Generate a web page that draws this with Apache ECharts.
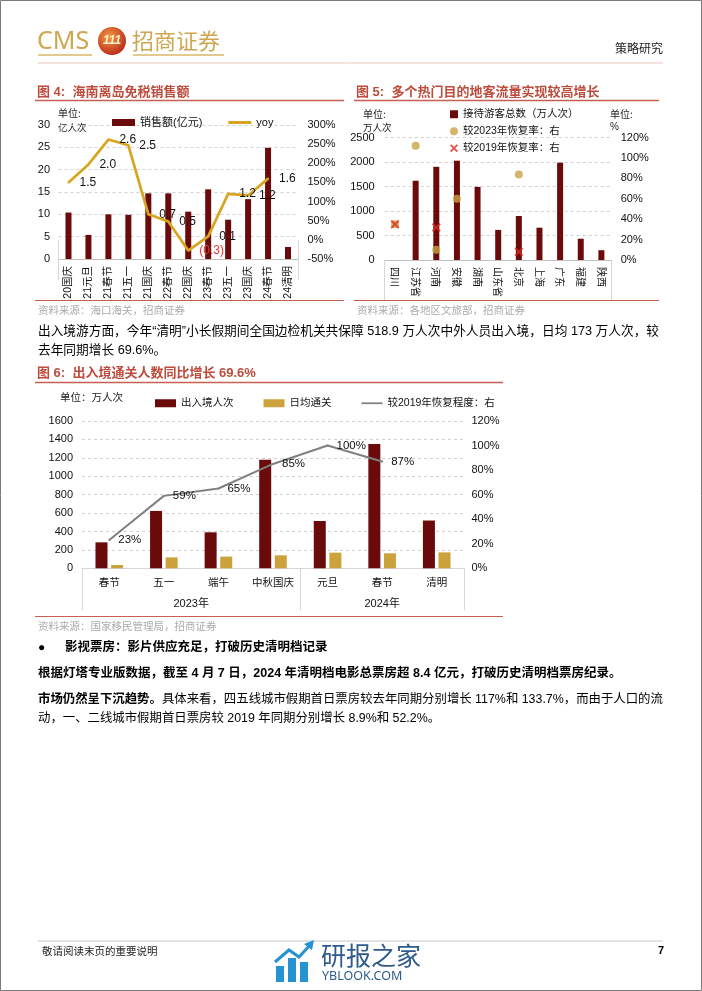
<!DOCTYPE html>
<html><head><meta charset="utf-8">
<script src="https://cdn.jsdelivr.net/npm/echarts@6/dist/echarts.min.js"></script>
<style>html,body{margin:0;padding:0;background:#fff}#c{width:702px;height:991px}</style>
</head><body><div id="c"></div>
<script>
// ---------- Figure 4 data ----------
const fig4Categories = ['20国庆','21元旦','21春节','21五一','21国庆','22春节','22国庆','23春节','23五一','23国庆','24春节','24清明'];
const fig4Sales = [10.4, 5.4, 10.0, 9.9, 14.7, 14.7, 10.6, 15.6, 8.8, 13.4, 24.9, 2.7];
const fig4Yoy = [150, 197, 262, 247, 67, 48, -28, 9, 120, 116, 160, null];
const fig4LeftTicks = {min: 0, max: 30, interval: 5};
const fig4RightTicks = {min: -50, max: 300, interval: 50};

// ---------- Figure 5 data ----------
const fig5Categories = ['四川','江苏省','河南','安徽','湖南','山东省','北京','上海','广东','福建','陕西'];
const fig5Visitors = [null, 1620, 1905, 2030, 1495, 615, 900, 660, 1990, 435, 200];
const fig5Vs2023 = [35, 112, 10, 60, null, null, 84, null, null, null, null];
const fig5Vs2019 = [35, null, 32, null, null, null, 8, null, null, null, null];
const fig5LeftTicks = {min: 0, max: 2500, interval: 500};
const fig5RightTicks = {min: 0, max: 120, interval: 20};

// ---------- Figure 6 data ----------
const fig6Categories = ['春节','五一','端午','中秋国庆','元旦','春节','清明'];
const fig6Years = ['2023年','2024年'];
const fig6YearSpans = [4, 3];
const fig6Crossings = [282, 623, 391, 1180, 514, 1350, 518.9];
const fig6Daily = [36, 119, 127, 141, 170, 163, 173];
const fig6Recovery = [23, 59, 65, 85, 100, 87, null];
const fig6LeftTicks = {min: 0, max: 1600, interval: 200};
const fig6RightTicks = {min: 0, max: 120, interval: 20};

// ---------- styles ----------
const MIX = '"Liberation Sans","Noto Sans CJK SC",sans-serif';
const CJK = '"Noto Sans CJK SC",sans-serif';
const DARK_RED = '#6B0A0A';
const GOLD = '#CCA23C';
const YOY_GOLD = '#D8A61E';
const TITLE_RED = '#BE4B3C';
const RULE_RED = '#C8604F';
const GRID_LINE = {show: true, lineStyle: {type: [3, 3], color: '#D0D0D0', width: 1}};
const X_ICON = 'path://M0,1.6 L1.6,0 L5,3.4 L8.4,0 L10,1.6 L6.6,5 L10,8.4 L8.4,10 L5,6.6 L1.6,10 L0,8.4 L3.4,5 Z';
const LINE_ICON_THICK = 'path://M0,0 L23,0 L23,3 L0,3 Z';
const LINE_ICON_THIN = 'path://M0,0 L24,0 L24,2 L0,2 Z';

function T(text, x, y, o) {
  return {type: 'text', silent: true, style: Object.assign({
    text: text, x: x, y: y, fill: '#000', fontSize: 12, fontFamily: MIX,
    textAlign: 'left', textVerticalAlign: 'middle', align: 'left', verticalAlign: 'middle'
  }, o || {})};
}
function L(x1, y1, x2, y2, color, w) {
  return {type: 'line', silent: true, shape: {x1: x1, y1: y1, x2: x2, y2: y2}, style: {stroke: color, lineWidth: w || 1}};
}
function yAx(grid, t, pos, margin, pct, split) {
  return {
    type: 'value', gridIndex: grid, position: pos, min: t.min, max: t.max, interval: t.interval,
    axisLine: {show: false}, axisTick: {show: false},
    axisLabel: {fontSize: 11, fontFamily: MIX, color: '#111', margin: margin, formatter: v => String(v) + (pct ? '%' : '')},
    splitLine: split ? GRID_LINE : {show: false}
  };
}
function edgeTicks(grid, count, len) {
  return {
    type: 'value', gridIndex: grid, position: 'bottom', min: 0, max: count,
    axisLine: {show: false}, axisLabel: {show: false}, splitLine: {show: false},
    axisTick: {show: true, customValues: [0, count], length: len, lineStyle: {color: '#D6D6D6'}}
  };
}

// year group ticks / labels for fig 6
const yearBounds = [0];
fig6YearSpans.forEach(s => yearBounds.push(yearBounds[yearBounds.length - 1] + s));
const yearCenters = fig6YearSpans.map((s, i) => yearBounds[i] + s / 2);

const chart = echarts.init(document.getElementById('c'));

const graphics = [
  {type: 'rect', silent: true, shape: {x: 0.5, y: 0.5, width: 701, height: 990}, style: {fill: 'none', stroke: '#7a7a7a', lineWidth: 1}},
  // header
  T('CMS', 37, 42, {fontSize: 25, fontFamily: '"Noto Sans",sans-serif', fill: '#CFA650'}),
  {type: 'circle', silent: true, shape: {cx: 112, cy: 41, r: 14},
   style: {fill: new echarts.graphic.RadialGradient(0.4, 0.35, 0.75, [{offset: 0, color: '#F39A45'}, {offset: 1, color: '#B51E16'}])}},
  T('111', 112, 41, {fontSize: 12, fontWeight: 'bold', fontStyle: 'italic', fill: '#FFF3C8', textAlign: 'center', align: 'center'}),
  T('招商证券', 132, 41, {fontSize: 22, fontFamily: CJK, fill: '#CFA650'}),
  L(38, 55, 92, 55, '#D9B868', 1.5),
  L(133, 55, 224, 55, '#D9B868', 1.5),
  T('策略研究', 615, 48, {fontSize: 12, fontFamily: CJK, fill: '#222'}),
  L(38, 63, 663, 63, '#E8C7BE', 1),

  // fig 4 frame
  T('图 4:  海南离岛免税销售额', 37, 92, {fontSize: 13, fontWeight: 'bold', fill: TITLE_RED}),
  L(35, 100.5, 344, 100.5, RULE_RED, 1.5),
  T('单位:', 58, 113, {fontSize: 10, fontFamily: CJK, fill: '#222'}),
  T('亿人次', 58, 127, {fontSize: 9.5, fontFamily: CJK, fill: '#222'}),
  L(35, 300.5, 344, 300.5, RULE_RED, 1),
  T('资料来源：海口海关，招商证券', 38, 310, {fontSize: 10.5, fontFamily: CJK, fill: '#ABABAB'}),

  // fig 5 frame
  T('图 5:  多个热门目的地客流量实现较高增长', 356, 92, {fontSize: 13, fontWeight: 'bold', fill: TITLE_RED}),
  L(354, 100.5, 659, 100.5, RULE_RED, 1.5),
  T('单位:', 363, 114, {fontSize: 10, fontFamily: CJK, fill: '#222'}),
  T('万人次', 363, 127, {fontSize: 9.5, fontFamily: CJK, fill: '#222'}),
  T('单位:', 610, 114, {fontSize: 10, fontFamily: CJK, fill: '#222'}),
  T('%', 610, 127, {fontSize: 10, fill: '#222'}),
  L(354, 300.5, 659, 300.5, RULE_RED, 1),
  T('资料来源：各地区文旅部，招商证券', 357, 310, {fontSize: 10.5, fontFamily: CJK, fill: '#ABABAB'}),

  // paragraph
  T('出入境游方面，今年“清明”小长假期间全国边检机关共保障 518.9 万人次中外人员出入境，日均 173 万人次，较', 38, 331, {fontSize: 12.7}),
  T('去年同期增长 69.6%。', 38, 350, {fontSize: 12.7}),

  // fig 6 frame
  T('图 6:  出入境通关人数同比增长 69.6%', 37, 373, {fontSize: 13, fontWeight: 'bold', fill: TITLE_RED}),
  L(35, 382.5, 503, 382.5, RULE_RED, 1.5),
  T('单位：万人次', 60, 397, {fontSize: 10.5, fontFamily: CJK, fill: '#222'}),
  L(35, 616.5, 503, 616.5, RULE_RED, 1),
  T('资料来源：国家移民管理局，招商证券', 38, 626, {fontSize: 10.5, fontFamily: CJK, fill: '#ABABAB'}),

  // text below
  T('●', 38, 648, {fontSize: 12}),
  T('影视票房：影片供应充足，打破历史清明档记录', 65, 648, {fontSize: 12.5, fontWeight: 'bold'}),
  T('根据灯塔专业版数据，截至 4 月 7 日，2024 年清明档电影总票房超 8.4 亿元，打破历史清明档票房纪录。', 38, 674, {fontSize: 12.5, fontWeight: 'bold'}),
  {type: 'text', silent: true, style: {
    text: '{b|市场仍然呈下沉趋势。}具体来看，四五线城市假期首日票房较去年同期分别增长 117%和 133.7%，而由于人口的流',
    x: 38, y: 700, fill: '#000', fontSize: 12.4, fontFamily: MIX,
    textAlign: 'left', textVerticalAlign: 'middle', align: 'left', verticalAlign: 'middle',
    rich: {b: {fontWeight: 'bold', fontSize: 12.4, fontFamily: MIX, fill: '#000'}}
  }},
  T('动，一、二线城市假期首日票房较 2019 年同期分别增长 8.9%和 52.2%。', 38, 719, {fontSize: 12.4}),

  // footer
  L(38, 941, 663, 941, '#C8C8C8', 1),
  T('敬请阅读末页的重要说明', 42, 951, {fontSize: 10.5, fontFamily: CJK, fill: '#222'}),
  T('7', 664, 951, {fontSize: 11, fontWeight: 'bold', textAlign: 'right', align: 'right'}),
  // watermark
  {type: 'rect', silent: true, shape: {x: 276, y: 966, width: 8, height: 16}, style: {fill: '#2593D1'}},
  {type: 'rect', silent: true, shape: {x: 288, y: 958, width: 8, height: 24}, style: {fill: '#2593D1'}},
  {type: 'rect', silent: true, shape: {x: 300, y: 962, width: 8, height: 20}, style: {fill: '#2593D1'}},
  {type: 'polyline', silent: true, shape: {points: [[275, 962], [289, 950], [299, 957], [311, 944]]}, style: {stroke: '#2593D1', lineWidth: 3, fill: 'none'}},
  {type: 'polygon', silent: true, shape: {points: [[304, 944], [314, 940], [312, 950]]}, style: {fill: '#2593D1'}},
  T('研报之家', 321, 955, {fontSize: 25, fontFamily: CJK, fill: '#2E5B8A'}),
  T('YBLOOK.COM', 322, 976, {fontSize: 12.5, fontFamily: '"Noto Sans",sans-serif', fill: '#2E5B8A'})
];

const option = {
  animation: false,
  backgroundColor: '#fff',
  grid: [
    {left: 58.5, top: 125, width: 239.5, height: 134},
    {left: 384.7, top: 137.7, width: 227, height: 122.3},
    {left: 82, top: 421, width: 382, height: 147.3}
  ],
  xAxis: [
    {type: 'category', gridIndex: 0, data: fig4Categories, position: 'bottom',
     axisLine: {lineStyle: {color: '#BFBFBF'}}, axisTick: {show: false},
     axisLabel: {interval: 0, rotate: 90, fontSize: 10.5, fontFamily: MIX, color: '#111', margin: 7}},
    edgeTicks(0, fig4Categories.length, 40),
    {type: 'category', gridIndex: 1, data: fig5Categories, position: 'bottom',
     axisLine: {lineStyle: {color: '#BFBFBF'}}, axisTick: {show: false},
     axisLabel: {interval: 0, rotate: -90, fontSize: 10, fontFamily: CJK, color: '#111', margin: 7}},
    edgeTicks(1, fig5Categories.length, 40),
    {type: 'category', gridIndex: 2, data: fig6Categories, position: 'bottom',
     axisLine: {lineStyle: {color: '#D6D6D6'}}, axisTick: {show: false},
     axisLabel: {interval: 0, fontSize: 10.5, fontFamily: CJK, color: '#111', margin: 8}},
    {type: 'value', gridIndex: 2, position: 'bottom', min: 0, max: yearBounds[yearBounds.length - 1],
     axisLine: {show: false}, splitLine: {show: false},
     axisTick: {show: true, customValues: yearBounds, length: 42, lineStyle: {color: '#D6D6D6'}},
     axisLabel: {show: true, customValues: yearCenters, margin: 30, fontSize: 11, fontFamily: MIX, color: '#111',
       formatter: v => fig6Years[yearCenters.indexOf(v)] || ''}}
  ],
  yAxis: [
    yAx(0, fig4LeftTicks, 'left', 8.5, false, true),
    yAx(0, fig4RightTicks, 'right', 9.5, true, false),
    yAx(1, fig5LeftTicks, 'left', 10, false, true),
    yAx(1, fig5RightTicks, 'right', 9, true, false),
    yAx(2, fig6LeftTicks, 'left', 9, false, true),
    yAx(2, fig6RightTicks, 'right', 7.5, true, false)
  ],
  legend: [
    {show: true, selectedMode: false, left: 107, top: 112, itemWidth: 23, itemHeight: 7, itemGap: 26,
     textStyle: {fontSize: 11, fontFamily: MIX, color: '#111'},
     data: [{name: '销售额(亿元)', icon: 'rect'}, {name: 'yoy', icon: LINE_ICON_THICK}]},
    {show: true, selectedMode: false, orient: 'vertical', left: 445, top: 104, itemWidth: 8, itemHeight: 8, itemGap: 6.5,
     textStyle: {fontSize: 10.5, fontFamily: MIX, color: '#111', lineHeight: 8},
     data: [{name: '接待游客总数（万人次）', icon: 'rect'}, {name: '较2023年恢复率：右', icon: 'circle'}, {name: '较2019年恢复率：右', icon: X_ICON}]},
    {show: true, selectedMode: false, left: 150, top: 393, itemWidth: 21, itemHeight: 8, itemGap: 30,
     textStyle: {fontSize: 10.5, fontFamily: MIX, color: '#111', lineHeight: 8},
     data: [{name: '出入境人次', icon: 'rect'}, {name: '日均通关', icon: 'rect'}, {name: '较2019年恢复程度：右', icon: LINE_ICON_THIN}]}
  ],
  series: [
    {name: '销售额(亿元)', type: 'bar', xAxisIndex: 0, yAxisIndex: 0, data: fig4Sales, barWidth: 6,
     itemStyle: {color: DARK_RED}},
    {name: 'yoy', type: 'line', xAxisIndex: 0, yAxisIndex: 1, data: fig4Yoy,
     symbol: 'circle', symbolSize: 2, showSymbol: true,
     lineStyle: {color: YOY_GOLD, width: 2.7}, itemStyle: {color: YOY_GOLD},
     label: {show: true, position: 'right', distance: 10, fontSize: 12, fontFamily: MIX, color: '#111',
       formatter: p => { const v = p.value / 100; return v < 0 ? '{neg|(' + Math.abs(v).toFixed(1) + ')}' : v.toFixed(1); },
       rich: {neg: {color: '#E53935', fontSize: 12, fontFamily: MIX}}}},
    {name: '接待游客总数（万人次）', type: 'bar', xAxisIndex: 2, yAxisIndex: 2, data: fig5Visitors, barWidth: 6,
     itemStyle: {color: DARK_RED}},
    {name: '较2023年恢复率：右', type: 'scatter', xAxisIndex: 2, yAxisIndex: 3, data: fig5Vs2023,
     symbol: 'circle', symbolSize: 8, itemStyle: {color: '#C9A245'}},
    {name: '较2019年恢复率：右', type: 'scatter', xAxisIndex: 2, yAxisIndex: 3, data: fig5Vs2019,
     symbol: X_ICON, symbolSize: 9, itemStyle: {color: '#E0281E'}},
    {name: '出入境人次', type: 'bar', xAxisIndex: 4, yAxisIndex: 4, data: fig6Crossings, barWidth: 12, barGap: '30%',
     itemStyle: {color: DARK_RED}},
    {name: '日均通关', type: 'bar', xAxisIndex: 4, yAxisIndex: 4, data: fig6Daily, barWidth: 12, barGap: '30%',
     itemStyle: {color: GOLD}},
    {name: '较2019年恢复程度：右', type: 'line', xAxisIndex: 4, yAxisIndex: 5, data: fig6Recovery,
     symbol: 'circle', symbolSize: 2, showSymbol: true,
     lineStyle: {color: '#808080', width: 2}, itemStyle: {color: '#808080'},
     label: {show: true, position: 'right', distance: 8, fontSize: 11.5, fontFamily: MIX, color: '#111', formatter: '{c}%'}}
  ],
  graphic: {elements: graphics}
};
chart.setOption(option);
</script>
</body></html>
